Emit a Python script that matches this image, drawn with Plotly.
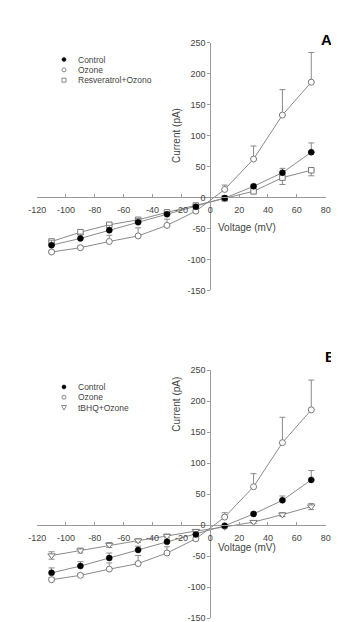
import plotly.graph_objects as go

# ---------------- data ----------------
voltage = [-110, -90, -70, -50, -30, -10, 10, 30, 50, 70]
x_ticks = [-120, -100, -80, -60, -40, -20, 0, 20, 40, 60, 80]
y_ticks = [-150, -100, -50, 0, 50, 100, 150, 200, 250]

control = [-77, -66, -53, -40, -27, -15, -1, 18, 40, 73]
control_err = [8, 7, 8, 6, 3, 2, 1, 3, 7, 15]

ozone = [-88, -81, -71, -62, -45, -22, 13, 62, 133, 186]
ozone_err = [3, 3, 10, 13, 10, 3, 7, 21, 41, 48]

resveratrol = [-71, -56, -44, -36, -24, -13, -1.5, 10, 32, 44]
resveratrol_err = [4, 4, 4, 4, 4, 2, 2, 4, 11, 9]

tbhq = [-49, -41, -32, -25, -17.5, -9.5, -3, 5, 17, 30]
tbhq_err = [6, 4, 4, 3, 3, 2, 2, 2, 3, 5]

names_A = ["Control", "Ozone", "Resveratrol+Ozono"]
names_B = ["Control", "Ozone", "tBHQ+Ozone"]

# ---------------- layout helpers ----------------
W, H = 339, 622
FONT = "Liberation Sans, Arial, sans-serif"
GREY = "#8a8a8a"
AXIS = "#9a9a9a"
TXT = "#444444"

x_rng = [-120, 80]
y_rng = [-150, 250]
x_dom = [21 / W, 322 / W]
panels = {
    "A": dict(top=30, bottom=282),
    "B": dict(top=363, bottom=615),
}


def py(p):
    return 1 - p / H


def zero_pos(rng, dom):
    return dom[0] + (0 - rng[0]) / (rng[1] - rng[0]) * (dom[1] - dom[0])


fig = go.Figure()


def add_series(xa, ya, vals, err, err_minus, marker, name):
    fig.add_trace(go.Scatter(
        x=voltage, y=vals, mode="lines+markers", name=name,
        xaxis=xa, yaxis=ya, showlegend=False,
        line=dict(color=GREY, width=1),
        marker=marker,
        error_y=dict(type="data", symmetric=False, array=err, arrayminus=err_minus,
                     color=GREY, thickness=1, width=3),
    ))


zeros = [0] * len(voltage)
m_ctrl = dict(symbol="circle", size=6, color="black", line=dict(color="black", width=0.5))
m_oz = dict(symbol="circle", size=6, color="white", line=dict(color="#777777", width=1))
m_sq = dict(symbol="square", size=5.5, color="white", line=dict(color="#777777", width=1))
m_tri = dict(symbol="triangle-down", size=6.5, color="white", line=dict(color="#777777", width=1))

# Panel A
add_series("x", "y", resveratrol, zeros, resveratrol_err, m_sq, names_A[2])
add_series("x", "y", ozone, ozone_err, zeros, m_oz, names_A[1])
add_series("x", "y", control, control_err, zeros, m_ctrl, names_A[0])
# Panel B
add_series("x2", "y2", tbhq, tbhq_err, tbhq_err, m_tri, names_B[2])
add_series("x2", "y2", ozone, ozone_err, zeros, m_oz, names_B[1])
add_series("x2", "y2", control, control_err, zeros, m_ctrl, names_B[0])

layout = dict(
    width=W, height=H, margin=dict(l=0, r=0, t=0, b=0),
    paper_bgcolor="white", plot_bgcolor="white",
    font=dict(family=FONT, size=9, color=TXT),
    showlegend=False,
)

annotations = []
shapes = []
for i, (key, p) in enumerate(panels.items()):
    suffix = "" if i == 0 else "2"
    ydom = [py(p["bottom"]), py(p["top"])]
    xpos = zero_pos(y_rng, ydom)
    ypos = zero_pos(x_rng, x_dom)
    layout["xaxis" + suffix] = dict(
        domain=x_dom, range=x_rng, anchor="free", position=xpos,
        tickvals=x_ticks, ticktext=[str(v) for v in x_ticks],
        showline=True, linecolor=AXIS, linewidth=1,
        ticks="inside", ticklen=3, tickcolor=AXIS,
        showgrid=False, zeroline=False, ticklabelstandoff=4,
        tickfont=dict(size=9, color=TXT, family=FONT),
    )
    layout["yaxis" + suffix] = dict(
        domain=ydom, range=y_rng, anchor="free", position=ypos,
        tickvals=y_ticks, ticktext=[str(v) for v in y_ticks],
        showline=True, linecolor=AXIS, linewidth=1,
        ticks="outside", ticklen=3, tickcolor=AXIS,
        showgrid=False, zeroline=False,
        tickfont=dict(size=9, color=TXT, family=FONT),
    )
    # axis titles
    annotations.append(dict(text="Current (pA)", textangle=-90, xref="paper", yref="paper",
                            x=167 / W, y=py(p["top"] + 65), showarrow=False,
                            font=dict(size=10, color=TXT, family=FONT)))
    annotations.append(dict(text="Voltage (mV)", xref="paper", yref="paper",
                            x=272 / W, y=py(p["top"] + 188), showarrow=False,
                            font=dict(size=10, color=TXT, family=FONT)))
    # panel letter
    annotations.append(dict(text="<b>%s</b>" % key, xref="paper", yref="paper",
                            x=(331 if key == "A" else 335) / W, y=py(p["top"] - 14),
                            showarrow=False, font=dict(size=15, color="black", family=FONT)))

# manual compact legends
legend_rows = {"A": 47.3, "B": 380}
legend_names = {"A": names_A, "B": names_B}
legend_syms = {"A": ["ctrl", "oz", "sq"], "B": ["ctrl", "oz", "tri"]}
for key in ["A", "B"]:
    for j, (nm, sym) in enumerate(zip(legend_names[key], legend_syms[key])):
        yy = legend_rows[key] + j * 10.5
        base = dict(xref="paper", yref="paper", xsizemode="pixel", ysizemode="pixel",
                    xanchor=49 / W, yanchor=py(yy), layer="above")
        if sym == "ctrl":
            shapes.append(dict(type="circle", x0=-2, x1=2, y0=-2, y1=2,
                               fillcolor="black", line=dict(color="black", width=0.5), **base))
        elif sym == "oz":
            shapes.append(dict(type="circle", x0=-2, x1=2, y0=-2, y1=2,
                               fillcolor="white", line=dict(color="#888888", width=1), **base))
        elif sym == "sq":
            shapes.append(dict(type="rect", x0=-2, x1=2, y0=-2, y1=2,
                               fillcolor="white", line=dict(color="#888888", width=1), **base))
        else:
            shapes.append(dict(type="path", path="M -2.5,2 L 2.5,2 L 0,-2.5 Z",
                               fillcolor="white", line=dict(color="#888888", width=1), **base))
        annotations.append(dict(text=nm, xref="paper", yref="paper", x=62 / W, y=py(yy),
                                xanchor="left", yanchor="middle", showarrow=False,
                                font=dict(size=8.5, color=TXT, family=FONT)))

layout["annotations"] = annotations
layout["shapes"] = shapes
fig.update_layout(**layout)
fig.write_html("out.html")
